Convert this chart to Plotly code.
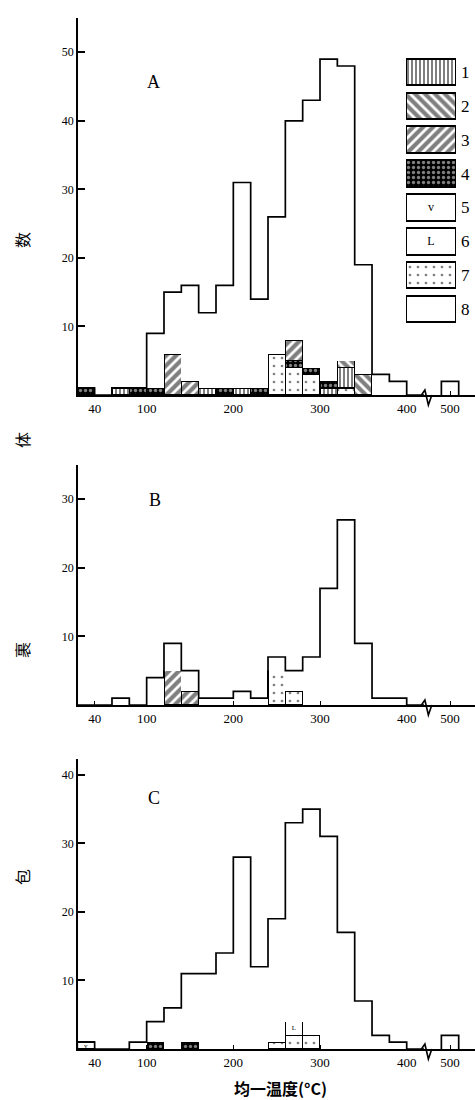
import plotly.graph_objects as go

# ---------------- data ----------------
# left edges of the 20 °C bins; the last bin is the one labelled 500 (after the axis break)
bin_left = [20, 40, 60, 80, 100, 120, 140, 160, 180, 200, 220, 240, 260, 280, 300, 320, 340, 360, 380, 400, 490]
BIN_W = 20
AXIS_BREAK = 425      # position of the axis break
BREAK_SHIFT = 50      # bins beyond the break are drawn 50 °C further left

categories = ["1", "2", "3", "4", "5", "6", "7", "8"]
stack_order = ["7", "1", "4", "2", "3", "5", "6", "8"]

x_tick_temps = [40, 100, 200, 300, 400, 500]
x_tick_text = ["40", "100", "200", "300", "400", "500"]

# Panel A
A1 = [0, 0, 1, 0, 0, 0, 0, 1, 0, 1, 0, 0, 0, 0, 1, 3, 0, 0, 0, 0, 0]
A2 = [0, 0, 0, 0, 0, 0, 0, 0, 0, 0, 0, 0, 0, 0, 0, 1, 3, 0, 0, 0, 0]
A3 = [0, 0, 0, 0, 0, 6, 2, 0, 0, 0, 0, 0, 3, 0, 0, 0, 0, 0, 0, 0, 0]
A4 = [1, 0, 0, 1, 1, 0, 0, 0, 1, 0, 1, 0, 1, 1, 1, 0, 0, 0, 0, 0, 0]
A5 = [0] * 21
A6 = [0] * 21
A7 = [0, 0, 0, 0, 0, 0, 0, 0, 0, 0, 0, 6, 4, 3, 0, 1, 0, 0, 0, 0, 0]
A8 = [0, 0, 0, 0, 8, 9, 14, 11, 15, 30, 13, 20, 32, 39, 47, 43, 16, 3, 2, 0, 2]

# Panel B
B1 = [0] * 21
B2 = [0] * 21
B3 = [0, 0, 0, 0, 0, 5, 2, 0, 0, 0, 0, 0, 0, 0, 0, 0, 0, 0, 0, 0, 0]
B4 = [0] * 21
B5 = [0] * 21
B6 = [0] * 21
B7 = [0, 0, 0, 0, 0, 0, 0, 0, 0, 0, 0, 5, 2, 0, 0, 0, 0, 0, 0, 0, 0]
B8 = [0, 0, 1, 0, 4, 4, 3, 1, 1, 2, 1, 2, 3, 7, 17, 27, 9, 1, 1, 0, 0]

# Panel C
C1 = [0] * 21
C2 = [0] * 21
C3 = [0] * 21
C4 = [0, 0, 0, 0, 1, 0, 1, 0, 0, 0, 0, 0, 0, 0, 0, 0, 0, 0, 0, 0, 0]
C5 = [1, 0, 0, 0, 0, 0, 0, 0, 0, 0, 0, 0, 0, 0, 0, 0, 0, 0, 0, 0, 0]
C6 = [0, 0, 0, 0, 0, 0, 0, 0, 0, 0, 0, 0, 2, 0, 0, 0, 0, 0, 0, 0, 0]
C7 = [0, 0, 0, 0, 0, 0, 0, 0, 0, 0, 0, 1, 2, 2, 0, 0, 0, 0, 0, 0, 0]
C8 = [0, 0, 0, 1, 3, 6, 10, 11, 14, 28, 12, 18, 29, 33, 31, 17, 7, 2, 1, 0, 2]

panel_A = dict(zip(categories, [A1, A2, A3, A4, A5, A6, A7, A8]))
panel_B = dict(zip(categories, [B1, B2, B3, B4, B5, B6, B7, B8]))
panel_C = dict(zip(categories, [C1, C2, C3, C4, C5, C6, C7, C8]))

# ---------------- styling ----------------
W, H = 475, 1100
SERIF = "Liberation Serif"
CJK = "Noto Sans CJK SC"

styles = {
    "1": dict(color="white", pattern=dict(shape="|", fgcolor="black", bgcolor="white", size=4, solidity=0.5)),
    "2": dict(color="white", pattern=dict(shape="\\", fgcolor="black", bgcolor="white", size=7, solidity=0.6)),
    "3": dict(color="white", pattern=dict(shape="/", fgcolor="black", bgcolor="white", size=7, solidity=0.6)),
    "4": dict(color="black", pattern=dict(shape=".", fgcolor="white", bgcolor="black", size=5, solidity=0.35)),
    "5": dict(color="white"),
    "6": dict(color="white"),
    "7": dict(color="white", pattern=dict(shape=".", fgcolor="black", bgcolor="white", size=8, solidity=0.09)),
    "8": dict(color="white"),
}
symbol_text = {"5": "v", "6": "L"}


def disp(t):
    return t if t < AXIS_BREAK else t - BREAK_SHIFT


centers = [disp(b) + BIN_W / 2 for b in bin_left]

X_DOMAIN = [78 / W, 1.0]
X_RANGE = [20.8, 478.8]

panels = [
    ("A", panel_A, "x", "y", [(H - 395) / H, (H - 18) / H], [0, 55], [10, 20, 30, 40, 50], (153, 82)),
    ("B", panel_B, "x2", "y2", [(H - 705) / H, (H - 465) / H], [0, 35], [10, 20, 30], (155, 500)),
    ("C", panel_C, "x3", "y3", [(H - 1049) / H, (H - 759) / H], [0, 42.3], [10, 20, 30, 40], (154, 798)),
]

fig = go.Figure()
layout_axes = {}
annotations = []
shapes = []

for idx, (name, data, xid, yid, ydom, yrange, yticks, lab) in enumerate(panels):
    # stacked category bars
    for cat in stack_order:
        vals = [v if v > 0 else None for v in data[cat]]
        if all(v is None for v in vals):
            continue
        st = styles[cat]
        marker = dict(color=st["color"],
                      line=dict(color="black", width=0 if cat == "8" else 1.4))
        if "pattern" in st:
            marker["pattern"] = st["pattern"]
        kw = {}
        if cat in symbol_text:
            kw = dict(text=[symbol_text[cat] if v else "" for v in vals],
                      textposition="inside", insidetextanchor="middle", textangle=0,
                      constraintext="none",
                      textfont=dict(size=7, color="black", family=SERIF))
        fig.add_trace(go.Bar(x=centers, y=vals, width=BIN_W, marker=marker,
                             xaxis=xid, yaxis=yid, showlegend=False,
                             hoverinfo="skip", **kw))

    # outline of the total histogram (step line)
    totals = [sum(data[c][i] for c in categories) for i in range(len(bin_left))]
    main = [(b, t) for b, t in zip(bin_left, totals) if b < AXIS_BREAK]
    xs = [disp(main[0][0])]
    ys = [0]
    for b, t in main:
        xs.append(disp(b))
        ys.append(t)
    xs.append(disp(main[-1][0]) + BIN_W)
    ys.append(0)
    for b, t in zip(bin_left, totals):
        if b >= AXIS_BREAK and t > 0:
            xs += [None, disp(b), disp(b), disp(b) + BIN_W]
            ys += [None, 0, t, 0]
    fig.add_trace(go.Scatter(x=xs, y=ys, mode="lines", line=dict(color="black", width=1.7, shape="hv"),
                             xaxis=xid, yaxis=yid, showlegend=False, hoverinfo="skip",
                             connectgaps=False))

    suffix = "" if idx == 0 else str(idx + 1)
    layout_axes["xaxis" + suffix] = dict(
        domain=X_DOMAIN, range=X_RANGE, anchor=yid, showline=True, linewidth=2.2, linecolor="black",
        ticks="inside", ticklen=4, tickwidth=1, tickcolor="black",
        tickvals=[disp(t) for t in x_tick_temps], ticktext=x_tick_text,
        tickfont=dict(family=SERIF, size=13, color="black"),
        showgrid=False, zeroline=False)
    layout_axes["yaxis" + suffix] = dict(
        domain=ydom, range=yrange, anchor=xid, showline=True, linewidth=1.6, linecolor="black",
        ticks="inside", ticklen=7, tickwidth=1.5, tickcolor="black",
        tickvals=yticks, tickfont=dict(family=SERIF, size=12, color="black"),
        showgrid=False, zeroline=False)

    annotations.append(dict(text=name, x=lab[0] / W, y=1 - lab[1] / H, xref="paper", yref="paper",
                            xanchor="center", yanchor="middle",
                            showarrow=False, font=dict(family=SERIF, size=18, color="black")))

    # axis break zigzag
    b = AXIS_BREAK
    y0 = ydom[0]
    path = (f"M {b - 8},{y0} L {b - 4},{y0 + 5 / H} L {b},{y0 - 10 / H} L {b + 4},{y0}")
    shapes.append(dict(type="path", xref=xid, yref="paper", path=path,
                       line=dict(color="black", width=1.6)))

# ---------------- legend drawn as its own small bar axis ----------------
for cat in categories:
    st = styles[cat]
    marker = dict(color=st["color"], line=dict(color="black", width=2))
    if "pattern" in st:
        marker["pattern"] = st["pattern"]
    kw = {}
    if cat in symbol_text:
        kw = dict(text=[symbol_text[cat]], textposition="inside", insidetextanchor="middle", textangle=0,
                  textfont=dict(size=12, color="black", family=SERIF))
    fig.add_trace(go.Bar(y=[cat], x=[1], orientation="h", width=0.78, marker=marker,
                         xaxis="x4", yaxis="y4", showlegend=False, hoverinfo="skip",
                         cliponaxis=False, **kw))

layout_axes["xaxis4"] = dict(domain=[406 / W, 456 / W], range=[0, 1], anchor="y4", visible=False)
layout_axes["yaxis4"] = dict(domain=[(H - 326) / H, (H - 55) / H], anchor="x4", side="right",
                             categoryorder="array", categoryarray=categories, autorange="reversed",
                             showline=False, showgrid=False, zeroline=False, ticks="",
                             ticklabelstandoff=4,
                             tickfont=dict(family=SERIF, size=17, color="black"))

# ---------------- titles ----------------
ytitle_chars = [("数", 240), ("体", 440), ("裹", 650), ("包", 877)]
for ch, py in ytitle_chars:
    annotations.append(dict(text=ch, x=22 / W, y=1 - py / H, xref="paper", yref="paper",
                            xanchor="center", yanchor="middle",
                            showarrow=False, textangle=-90,
                            font=dict(family=CJK, size=16, color="black")))

annotations.append(dict(text="<b>均一温度(°C)</b>", x=280 / W, y=1 - 1088 / H, xref="paper", yref="paper",
                        xanchor="center", yanchor="middle",
                        showarrow=False, font=dict(family=CJK, size=16, color="black")))

fig.update_layout(width=W, height=H, margin=dict(l=0, r=0, t=0, b=0),
                  paper_bgcolor="white", plot_bgcolor="white", barmode="stack",
                  showlegend=False, annotations=annotations, shapes=shapes,
                  font=dict(family=SERIF, color="black"), **layout_axes)

fig.write_html("out.html")
